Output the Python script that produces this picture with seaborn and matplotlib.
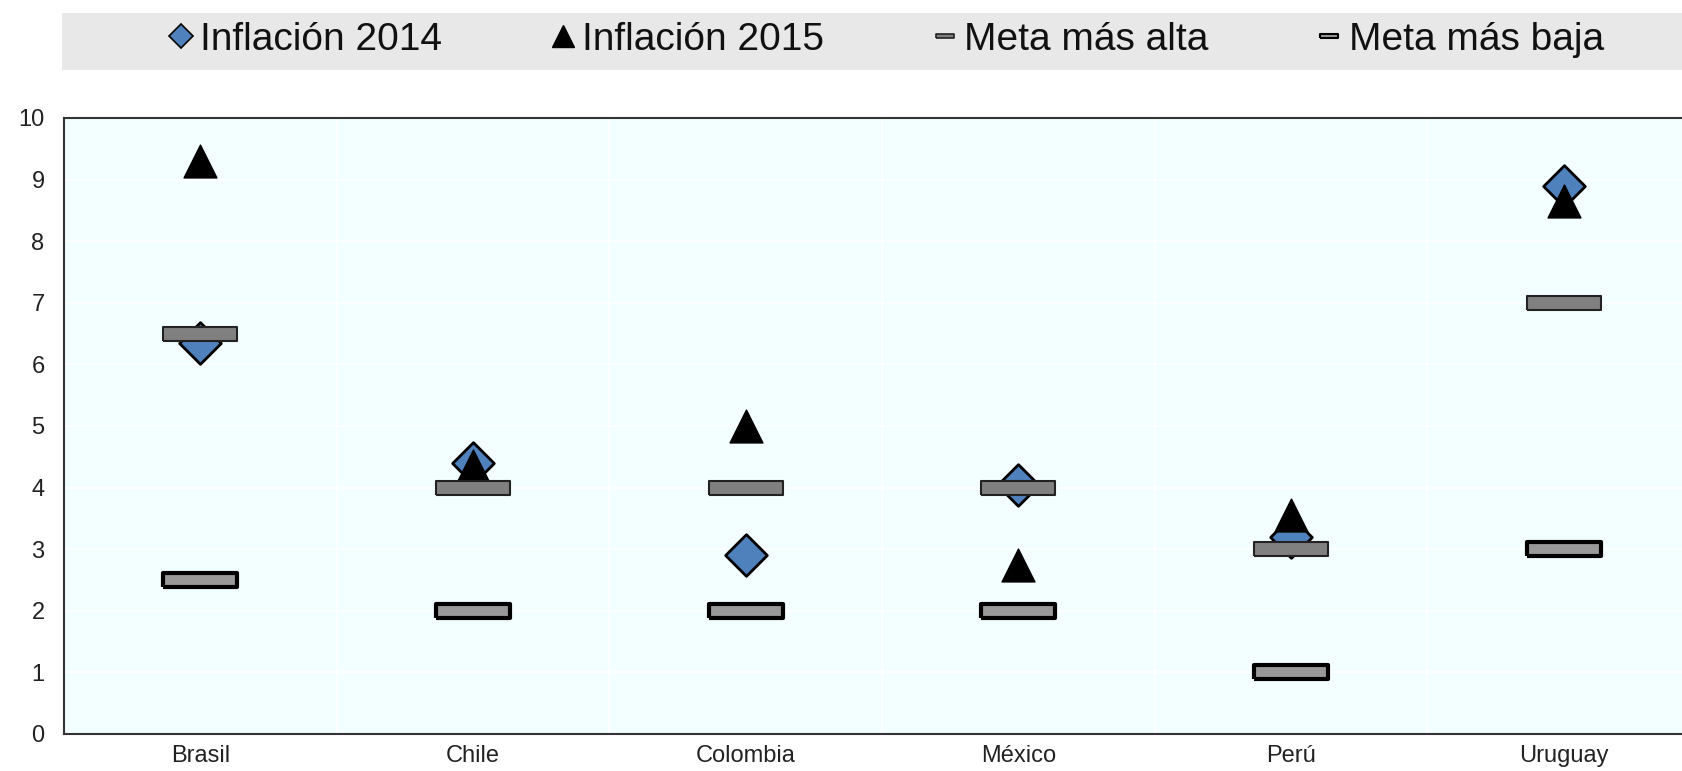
import matplotlib.pyplot as plt
from matplotlib.patches import Rectangle
from matplotlib.lines import Line2D
import seaborn as sns
import pandas as pd

paises = ['Brasil', 'Chile', 'Colombia', 'México', 'Perú', 'Uruguay']
inflacion_2014 = [6.35, 4.4, 2.9, 4.05, 3.2, 8.9]
inflacion_2015 = [9.3, 4.35, 5.0, 2.75, 3.55, 8.65]
meta_alta = [6.5, 4.0, 4.0, 4.0, 3.0, 7.0]
meta_baja = [2.5, 2.0, 2.0, 2.0, 1.0, 3.0]

df = pd.DataFrame({'pais': paises, 'i2014': inflacion_2014, 'i2015': inflacion_2015,
                   'alta': meta_alta, 'baja': meta_baja})

sns.set_style('white')
plt.rcParams['font.family'] = ['Liberation Sans', 'DejaVu Sans']

barra = [(-5, -1), (5, -1), (5, 1), (-5, 1), (-5, -1)]

fig = plt.figure(figsize=(16.83, 7.71), dpi=100)
ax = fig.add_axes([64/1683, 1-734/771, 1636/1683, 616/771])
ax.set_facecolor('#F2FEFF')

sns.scatterplot(data=df, x='pais', y='i2014', ax=ax, marker='D', s=450,
                color='#4F81BD', edgecolor='black', linewidth=2, zorder=3, legend=False)
sns.scatterplot(data=df, x='pais', y='i2015', ax=ax, marker='^', s=560,
                color='black', edgecolor='black', linewidth=1, zorder=4, legend=False)
sns.scatterplot(data=df, x='pais', y='alta', ax=ax, marker=barra, s=2900,
                color='#808080', edgecolor='#222222', linewidth=1.5, zorder=5, legend=False)
sns.scatterplot(data=df, x='pais', y='baja', ax=ax, marker=barra, s=2900,
                color='#999999', edgecolor='black', linewidth=3, zorder=6, legend=False)

ax.set_xlim(-0.5, 5.5)
ax.set_ylim(0, 10)
ax.set_yticks(range(0, 11))
ax.set_xticks(range(len(paises)))
ax.set_xticklabels(paises)
ax.set_xticks([i + 0.5 for i in range(5)], minor=True)
ax.set_xlabel('')
ax.set_ylabel('')

ax.tick_params(axis='x', which='major', length=0, labelsize=17, pad=8, colors='#222222')
ax.tick_params(axis='x', which='minor', length=9, direction='in', width=1.2, color='#333333')
ax.tick_params(axis='y', which='major', length=8, direction='in', width=1.2, labelsize=17,
               pad=14, colors='#222222')
ax.grid(axis='y', which='major', color='white', linewidth=1.2)
ax.grid(axis='x', which='minor', color='white', linewidth=1.2)
ax.set_axisbelow(True)
for side in ['left', 'top', 'bottom']:
    ax.spines[side].set_color('#333333')
    ax.spines[side].set_linewidth(1.5)
ax.spines['right'].set_visible(False)

# franja gris de la leyenda
fig.patches.append(Rectangle((62/1683, 1-70/771), 1, 57/771, transform=fig.transFigure,
                             facecolor='#E8E8E8', edgecolor='none', zorder=0))
handles = [
    Line2D([], [], linestyle='', marker='D', markersize=12, markerfacecolor='#4F81BD',
           markeredgecolor='black', markeredgewidth=1.2),
    Line2D([], [], linestyle='', marker='^', markersize=16, markerfacecolor='black',
           markeredgecolor='black'),
    Line2D([], [], linestyle='', marker=barra, markersize=13, markerfacecolor='#808080',
           markeredgecolor='#222222', markeredgewidth=1.2),
    Line2D([], [], linestyle='', marker=barra, markersize=13, markerfacecolor='#999999',
           markeredgecolor='black', markeredgewidth=1.5),
]
labels = ['Inflación 2014', 'Inflación 2015', 'Meta más alta', 'Meta más baja']
fig.legend(handles, labels, loc='center', bbox_to_anchor=(0.5255, 1-40/771), ncol=4,
           frameon=False, prop={'size': 28}, handletextpad=0.1, columnspacing=2.7,
           handlelength=0.8, labelcolor='#111111')

fig.savefig('out.png', dpi=100)
